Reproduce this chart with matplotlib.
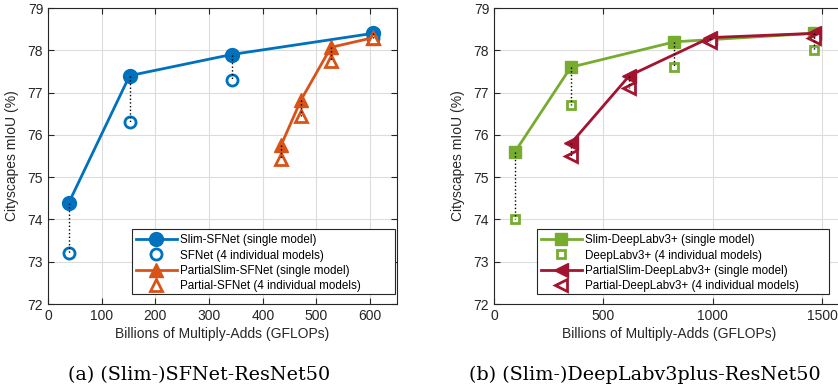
import matplotlib.pyplot as plt
from matplotlib.patches import Rectangle

# (a) SFNet data
sf_slim_x = [39, 152, 342, 605]
sf_slim_y = [74.4, 77.4, 77.9, 78.4]
sf_ind_y = [73.2, 76.3, 77.3, 78.3]
sf_pslim_x = [434, 471, 527, 606]
sf_pslim_y = [75.75, 76.82, 78.07, 78.3]
sf_pind_y = [75.43, 76.44, 77.75, 78.3]

# (b) DeepLabv3+ data
dl_slim_x = [96, 351, 825, 1461]
dl_slim_y = [75.6, 77.6, 78.2, 78.4]
dl_ind_y = [74.0, 76.7, 77.6, 78.0]
dl_pslim_x = [352, 619, 988, 1461]
dl_pslim_y = [75.8, 77.4, 78.3, 78.4]
dl_pind_y = [75.5, 77.1, 78.2, 78.3]

BLUE = '#0072BD'
ORANGE = '#D95319'
GREEN = '#77AC30'
RED = '#A2142F'
DARK = '#262626'

plt.rcParams['font.family'] = ['Liberation Sans', 'DejaVu Sans']

W, H = 838, 391
fig = plt.figure(figsize=(W / 100, H / 100), dpi=100)


def px_axes(x0, x1, y0, y1):
    return fig.add_axes([x0 / W, 1 - y1 / H, (x1 - x0) / W, (y1 - y0) / H])


def style(ax, xticks, xlim):
    ax.set_xlim(*xlim)
    ax.set_ylim(72, 79)
    ax.set_xticks(xticks)
    ax.set_yticks(range(72, 80))
    ax.grid(True, color='#dcdcdc', linewidth=0.8)
    ax.set_axisbelow(True)
    ax.tick_params(direction='in', top=True, right=True, length=4, width=0.8,
                   labelsize=10, colors=DARK, labelcolor=DARK)
    for s in ax.spines.values():
        s.set_color(DARK)
        s.set_linewidth(0.8)
    ax.set_xlabel('Billions of Multiply-Adds (GFLOPs)', fontsize=10, color=DARK, labelpad=3)
    ax.set_ylabel('Cityscapes mIoU (%)', fontsize=10, color=DARK, labelpad=6)


def panel(ax, sx, sy, iy, px, py, piy, c1, c2, m1, m2, names, ms1, ms2, box):
    for x, a, b in zip(sx, sy, iy):
        ax.plot([x, x], [a, b], ':', color='black', linewidth=1, zorder=4)
    for x, a, b in zip(px, py, piy):
        ax.plot([x, x], [a, b], ':', color='black', linewidth=1, zorder=4)
    ax.plot(sx, sy, '-', marker=m1, color=c1, markersize=ms1, linewidth=2,
            label=names[0], zorder=3)
    ax.plot(sx, iy, linestyle='none', marker=m1, color=c1, markersize=ms2,
            markerfacecolor='white', markeredgewidth=2, label=names[1], zorder=3)
    ax.plot(px, py, '-', marker=m2, color=c2, markersize=10, linewidth=2,
            label=names[2], zorder=3)
    ax.plot(px, piy, linestyle='none', marker=m2, color=c2, markersize=9,
            markerfacecolor='white', markeredgewidth=2, label=names[3], zorder=3)
    # legend frame drawn separately (MATLAB style, extra room on the right)
    x0, x1, y0, y1 = box
    ax.add_patch(Rectangle((x0 / W, 1 - y1 / H), (x1 - x0) / W, (y1 - y0) / H,
                           transform=fig.transFigure, facecolor='white',
                           edgecolor=DARK, linewidth=0.8, clip_on=False, zorder=4.5))
    ax.legend(loc='upper left', bbox_to_anchor=((x0 + 4) / W, 1 - (y0 + 5) / H),
              bbox_transform=fig.transFigure, fontsize=8.4, frameon=False,
              handlelength=3.5, borderpad=0, labelspacing=0.3, handletextpad=0.3,
              borderaxespad=0)


ax1 = px_axes(48, 397, 8, 304)
style(ax1, range(0, 700, 100), (0, 650))
panel(ax1, sf_slim_x, sf_slim_y, sf_ind_y, sf_pslim_x, sf_pslim_y, sf_pind_y,
      BLUE, ORANGE, 'o', '^',
      ['Slim-SFNet (single model)', 'SFNet (4 individual models)',
       'PartialSlim-SFNet (single model)', 'Partial-SFNet (4 individual models)'],
      10, 8, (132, 395, 229, 294))

ax2 = px_axes(494, 844, 8, 304)
style(ax2, [0, 500, 1000, 1500], (0, 1600))
ax2.spines['right'].set_visible(False)
panel(ax2, dl_slim_x, dl_slim_y, dl_ind_y, dl_pslim_x, dl_pslim_y, dl_pind_y,
      GREEN, RED, 's', '<',
      ['Slim-DeepLabv3+ (single model)', 'DeepLabv3+ (4 individual models)',
       'PartialSlim-DeepLabv3+ (single model)', 'Partial-DeepLabv3+ (4 individual models)'],
      8, 6, (537, 829, 229, 294))

fig.text(199 / W, 1 - 375 / H, '(a) (Slim-)SFNet-ResNet50', ha='center', va='center',
         fontsize=13.8, family='DejaVu Serif', color='black')
fig.text(645 / W, 1 - 375 / H, '(b) (Slim-)DeepLabv3plus-ResNet50', ha='center', va='center',
         fontsize=13.8, family='DejaVu Serif', color='black')

fig.savefig('out.png', dpi=100)
